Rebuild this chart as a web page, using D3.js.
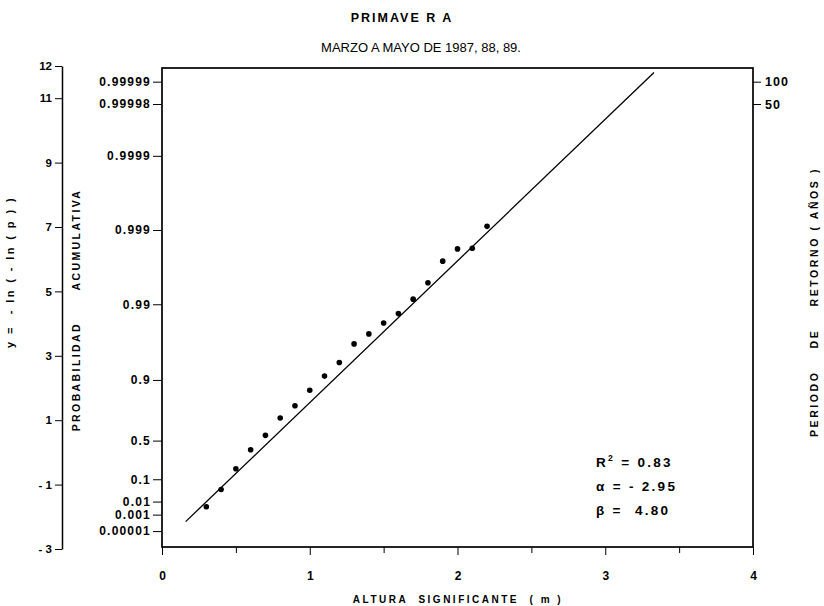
<!DOCTYPE html>
<html lang="es">
<head>
<meta charset="UTF-8">
<title>Primavera - Gumbel</title>
<script src="https://d3js.org/d3.v7.min.js"></script>
<style>
    body { margin: 0; background: #fff; }
    svg { display: block; font-family: "Liberation Sans", Arial, sans-serif; }
    .axis path, .axis line { stroke: #000; }
    .axis text { fill: #000; font-size: 12px; }
</style>
</head>
<body>
<svg width="824" height="606"></svg>
<script>
    // altura significante (m) de cada punto
    const alturas = [0.3, 0.4, 0.5, 0.6, 0.7, 0.8, 0.9, 1.0, 1.1, 1.2,
        1.3, 1.4, 1.5, 1.6, 1.7, 1.8, 1.9, 2.0, 2.1, 2.2];
    // variable reducida y = -ln(-ln(p))
    const yReducida = [-1.69, -1.15, -0.51, 0.08, 0.53, 1.07, 1.45, 1.93, 2.37, 2.79,
        3.37, 3.68, 4.02, 4.31, 4.76, 5.27, 5.94, 6.32, 6.34, 7.02];

    // recta ajustada (extremos)
    const rectaX = [0.16, 3.33];
    const rectaY = [-2.15, 11.8];

    const ticksY = [12, 11, 9, 7, 5, 3, 1, -1, -3];
    const ticksProb = [0.99999, 0.99998, 0.9999, 0.999, 0.99, 0.9, 0.5, 0.1, 0.01, 0.001, 0.00001];
    const etiquetasProb = ["0.99999", "0.99998", "0.9999", "0.999", "0.99", "0.9", "0.5", "0.1", "0.01", "0.001", "0.00001"];
    const periodos = [100, 50];
    const probPeriodos = [0.99999, 0.99998];
    const ticksX = [0, 1, 2, 3, 4];
    const ticksXmenor = [0.5, 1.5, 2.5, 3.5];

    const estadisticos = [
        { nombre: "R", sup: "2", valor: "0.83" },
        { nombre: "α", sup: "", valor: "- 2.95" },
        { nombre: "β", sup: "", valor: " 4.80" }
    ];

    const gumbel = p => -Math.log(-Math.log(p));

    const svg = d3.select("svg");
    const x = d3.scaleLinear().domain([0, 4]).range([162, 753]);
    const y = d3.scaleLinear().domain([-3, 12]).range([549, 66]);
    const marcoArriba = 68, marcoAbajo = 547;

    // titulos
    svg.append("text").attr("x", 402).attr("y", 22)
        .attr("text-anchor", "middle").style("font-size", "12.5px").style("font-weight", "bold")
        .style("letter-spacing", "2px").style("white-space", "pre").text("PRIMAVE R A");
    svg.append("text").attr("x", 421).attr("y", 52)
        .attr("text-anchor", "middle").style("font-size", "13px")
        .text("MARZO A MAYO DE 1987, 88, 89.");

    // marco
    svg.append("rect")
        .attr("x", x(0)).attr("y", marcoArriba)
        .attr("width", x(4) - x(0)).attr("height", marcoAbajo - marcoArriba)
        .attr("fill", "none").attr("stroke", "#000").attr("stroke-width", 1.7);

    // eje y exterior
    const ejeY = svg.append("g").attr("class", "axis")
        .attr("transform", "translate(62,0)")
        .call(d3.axisLeft(y).tickValues(ticksY).tickSize(7).tickSizeOuter(0).tickFormat(d3.format("d")));
    ejeY.select(".domain").attr("stroke-width", 1.5);
    ejeY.selectAll("text").style("font-size", "11.5px").style("font-weight", "bold")
        .style("white-space", "pre")
        .text(d => d < 0 ? "- " + Math.abs(d) : d);

    // eje de probabilidad
    const ejeP = svg.append("g").attr("class", "axis")
        .attr("transform", `translate(${x(0)},0)`)
        .call(d3.axisLeft(y).tickValues(ticksProb.map(gumbel)).tickSize(9).tickPadding(2)
            .tickFormat((d, i) => etiquetasProb[i]));
    ejeP.select(".domain").remove();
    ejeP.selectAll("text").style("font-size", "12px").style("font-weight", "bold")
        .style("letter-spacing", "1.2px");

    // eje periodo de retorno
    const ejeR = svg.append("g").attr("class", "axis")
        .attr("transform", `translate(${x(4)},0)`)
        .call(d3.axisRight(y).tickValues(probPeriodos.map(gumbel)).tickSize(8).tickPadding(4)
            .tickFormat((d, i) => periodos[i]));
    ejeR.select(".domain").remove();
    ejeR.selectAll("text").style("font-size", "12.5px").style("font-weight", "bold")
        .style("letter-spacing", "1px");

    // eje x
    const ejeX = svg.append("g").attr("class", "axis")
        .attr("transform", `translate(0,${marcoAbajo})`)
        .call(d3.axisBottom(x).tickValues(ticksX).tickSize(8).tickPadding(16).tickFormat(d3.format("d")));
    ejeX.select(".domain").remove();
    ejeX.selectAll("text").style("font-size", "12px").style("font-weight", "bold");
    svg.append("g").attr("class", "axis")
        .attr("transform", `translate(0,${marcoAbajo})`)
        .call(d3.axisBottom(x).tickValues(ticksXmenor).tickSize(6).tickFormat(""))
        .select(".domain").remove();

    // titulos de ejes
    svg.append("text").attr("transform", "translate(458,603)")
        .attr("text-anchor", "middle").style("font-size", "10px").style("font-weight", "bold")
        .style("letter-spacing", "2.5px").style("white-space", "pre")
        .text("ALTURA  SIGNIFICANTE  ( m )");
    svg.append("text").attr("transform", "translate(14,272) rotate(-90)")
        .attr("text-anchor", "middle").style("font-size", "11px").style("font-weight", "bold")
        .style("letter-spacing", "2.4px").style("white-space", "pre")
        .text("y =  - ln ( - ln ( p ) )");
    svg.append("text").attr("transform", "translate(80,310) rotate(-90)")
        .attr("text-anchor", "middle").style("font-size", "10.5px").style("font-weight", "bold")
        .style("letter-spacing", "2.4px").style("white-space", "pre")
        .text("PROBABILIDAD      ACUMULATIVA");
    svg.append("text").attr("transform", "translate(818,302) rotate(-90)")
        .attr("text-anchor", "middle").style("font-size", "10.5px").style("font-weight", "bold")
        .style("letter-spacing", "2.6px").style("white-space", "pre")
        .text("PERIODO    DE    RETORNO ( AÑOS )");

    // recta ajustada
    svg.append("path")
        .datum(d3.zip(rectaX, rectaY))
        .attr("d", d3.line().x(d => x(d[0])).y(d => y(d[1])))
        .attr("fill", "none").attr("stroke", "#000").attr("stroke-width", 1.3);

    // puntos
    svg.append("g").selectAll("circle")
        .data(d3.zip(alturas, yReducida))
        .join("circle")
        .attr("cx", d => x(d[0])).attr("cy", d => y(d[1]))
        .attr("r", 2.8).attr("fill", "#000");

    // estadisticos
    const est = svg.append("g").attr("transform", "translate(596,467)")
        .style("font-size", "13.5px").style("font-weight", "bold").style("letter-spacing", "2.3px");
    est.selectAll("text").data(estadisticos).join("text")
        .attr("y", (d, i) => i * 24)
        .style("white-space", "pre")
        .each(function (d) {
            const t = d3.select(this);
            t.append("tspan").text(d.nombre);
            if (d.sup) t.append("tspan").attr("dy", -6).style("font-size", "8.5px").text(d.sup);
            t.append("tspan").attr("dy", d.sup ? 6 : 0).text(" = " + d.valor);
        });
</script>
</body>
</html>
